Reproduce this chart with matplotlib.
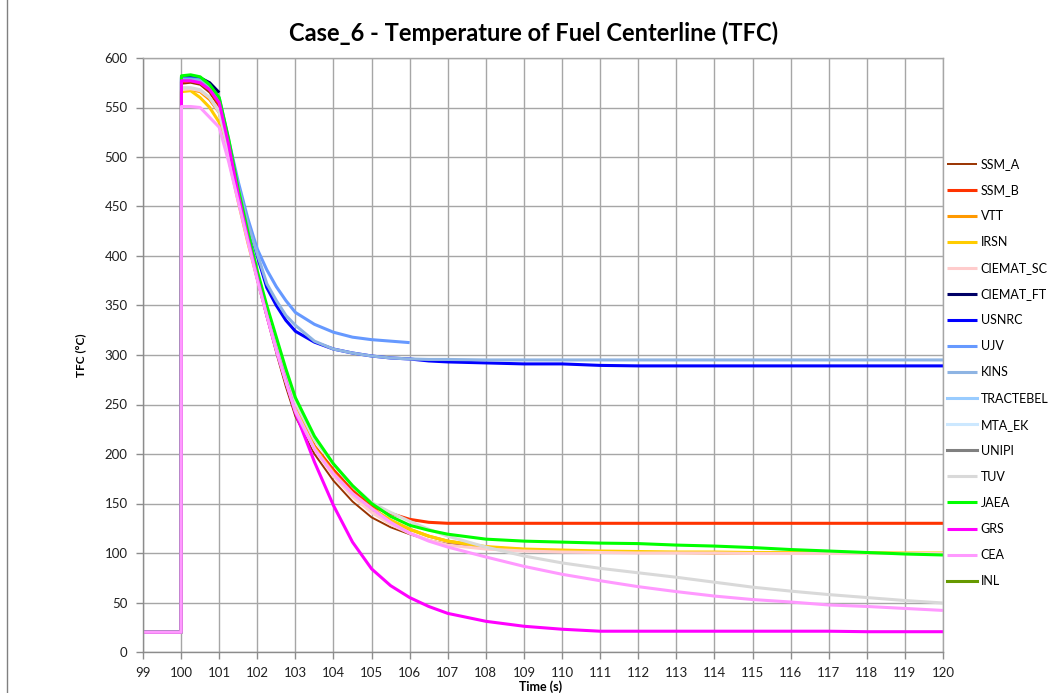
import numpy as np
import matplotlib
matplotlib.use("Agg")
import matplotlib.pyplot as plt
from matplotlib.lines import Line2D

plt.rcParams['font.family'] = ['Lato', 'DejaVu Sans']

N = np.nan
time_s = [99, 100, 100.01, 100.25, 100.5, 100.75, 101, 101.25, 101.5, 101.75,
          102, 102.25, 102.5, 102.75, 103, 103.5, 104, 104.5, 105, 105.5,
          106, 106.5, 107, 108, 109, 110, 111, 112, 113, 114,
          115, 116, 117, 118, 119, 120]

ssm_a = [20, 20, 574, 575, 573, 565, 550, 505, 458, 415,
         375, 338, 302, 268, 238, 200, 173, 152, 136, 126,
         119, 113, 109, 106, 104, 102, 101, 100.5, 100, 100,
         100, 100, 100, 100, 100, 100]
ssm_b = [20, 20, 576, 577, 575, 568, 553, 510, 462, 420,
         380, 345, 310, 278, 248, 208, 184, 163, 147, 140,
         134, 131, 130, 130, 130, 130, 130, 130, 130, 130,
         130, 130, 130, 130, 130, 130]
vtt = [20, 20, 567, 568, 566, 558, 545, 505, 460, 418,
       380, 343, 308, 276, 246, 207, 181, 160, 145, 133,
       124, 117, 112, 106, 103, 102, 101, 100.5, 100.5, 100,
       100, 100, 100, 100, 99.5, 99.5]
irsn = [20, 20, 566, 567, 560, 550, 535, 498, 455, 414,
        377, 341, 307, 275, 245, 206, 180, 160, 145, 133,
        124, 117, 112, 106.5, 104, 103, 102, 101.5, 101, 101,
        100.5, 100.5, 100, 100, 100, 100]
ciemat_sc = [20, 20, 568, 569, 567, 560, 547, 506, 460, 417,
             378, 341, 306, 274, 244, 205, 178, 157, 141, 129,
             120, 113, 108, 104, 102, 101, 100.5, 100, 100, 100,
             99.5, 99.5, 99.5, 99.5, 99.5, 99.5]
ciemat_ft = [20, 20, 581, 581, 580, 575, 565, N, N, N,
             N, N, N, N, N, N, N, N, N, N,
             N, N, N, N, N, N, N, N, N, N,
             N, N, N, N, N, N]
usnrc = [20, 20, 580, 580, 579, 573, 558, 515, 470, 433,
         400, 368, 350, 335, 324, 313, 306, 302, 299, 297,
         296, 294, 293, 292, 291, 291, 289.5, 289, 289, 289,
         289, 289, 289, 289, 289, 289]
ujv = [20, 20, 579, 579, 578, 572, 560, 517, 475, 438,
       407, 386, 369, 355, 343, 331, 323, 318, 315.5, 314,
       312.5, N, N, N, N, N, N, N, N, N,
       N, N, N, N, N, N]
kins = [20, 20, 578, 578, 577, 571, 557, 514, 470, 433,
        402, 372, 355, 340, 330, 314, 306, 302, 299, 297,
        296, 295.5, 295.5, 295, 295, 295, 295, 295, 295, 295,
        295, 295, 295, 295, 295, 295]
tractebel = []
mta_ek = []
unipi = []
tuv = [20, 20, 570, 570, 568, 560, 545, 505, 460, 420,
       382, 346, 312, 281, 252, 214, 190, 168, 151, 141,
       132, 124, 117, 106, 97, 90, 84.5, 80, 75.5, 70.5,
       65.5, 61.5, 58, 55, 52, 49.5]
jaea = [20, 20, 582, 583, 581, 573, 560, 518, 468, 425,
        385, 350, 318, 286, 257, 218, 190, 168, 150, 137,
        128, 123, 119, 114, 112, 111, 110, 109.5, 108, 107,
        105.5, 103.5, 102, 100.5, 99, 98]
grs = [20, 20, 577, 577, 575, 568, 555, 512, 462, 418,
       378, 340, 305, 274, 242, 192, 148, 111, 84, 67,
       55, 46, 39, 31, 26, 23, 21, 21, 21, 21,
       21, 21, 21, 20.5, 20.5, 20.5]
cea = [20, 20, 551, 551, 550, 540, 530, 495, 455, 415,
       376, 340, 305, 273, 243, 205, 180, 160, 145, 131,
       120, 112, 106, 96, 86.5, 78.5, 72, 66, 61, 56.5,
       53, 50.5, 47.5, 46, 44, 42]
inl = []

names = ['SSM_A', 'SSM_B', 'VTT', 'IRSN', 'CIEMAT_SC', 'CIEMAT_FT', 'USNRC', 'UJV',
         'KINS', 'TRACTEBEL', 'MTA_EK', 'UNIPI', 'TUV', 'JAEA', 'GRS', 'CEA', 'INL']
series = [ssm_a, ssm_b, vtt, irsn, ciemat_sc, ciemat_ft, usnrc, ujv,
          kins, tractebel, mta_ek, unipi, tuv, jaea, grs, cea, inl]
colors = ['#993300', '#FF3300', '#FF9900', '#FFCC00', '#FFCCCC', '#000066', '#0000FF', '#6699FF',
          '#8EB4E3', '#99CCFF', '#CCE8FF', '#808080', '#D9D9D9', '#00FF00', '#FF00FF', '#FF99FF', '#669900']

fig = plt.figure(figsize=(10.56, 6.93), dpi=100)
ax = fig.add_axes([143/1056, 1-652/693, 800/1056, (652-58)/693])

for name, vals, c in zip(names, series, colors):
    lw = 1.4 if name == 'SSM_A' else 2.2
    if len(vals):
        ax.plot(time_s, vals, color=c, lw=lw, label=name, solid_capstyle='butt')
    else:
        ax.plot([], [], color=c, lw=2.2, label=name)

ax.set_xlim(99, 120)
ax.set_ylim(0, 600)
ax.set_xticks(np.arange(99, 121, 1))
ax.set_yticks(np.arange(0, 601, 50))
ax.grid(True, color='#A6A6A6', lw=1.0)
ax.set_axisbelow(True)
for s in ax.spines.values():
    s.set_color('#A6A6A6')
    s.set_linewidth(1.0)
ax.spines['left'].set_color('#8C8C8C')
ax.spines['bottom'].set_color('#8C8C8C')
ax.tick_params(axis='both', direction='out', length=5, color='#8C8C8C', width=1,
               labelsize=9.5, labelcolor='#202020')
ax.tick_params(axis='x', pad=6)
ax.tick_params(axis='y', pad=6)

ax.set_xlabel('Time (s)', fontsize=9, fontweight='bold')
ax.xaxis.set_label_coords(0.497, (652 - 680) / 594)
ax.set_ylabel('TFC (°C)', fontsize=8.5, fontweight='bold', labelpad=13)
fig.text(534/1056, 1-33/693, 'Case_6 - Temperature of Fuel Centerline (TFC)',
         ha='center', va='center', fontsize=17, fontweight='bold')

leg = fig.legend(loc='upper left', bbox_to_anchor=(947/1056, 1-158/693), frameon=False,
                 fontsize=9, labelspacing=1.125, handlelength=2.4, handletextpad=0.3,
                 borderpad=0, borderaxespad=0)

fig.add_artist(Line2D([7/1056, 7/1056], [0, 1], transform=fig.transFigure, color='#808080', lw=1))

fig.savefig('out.png', dpi=100)
